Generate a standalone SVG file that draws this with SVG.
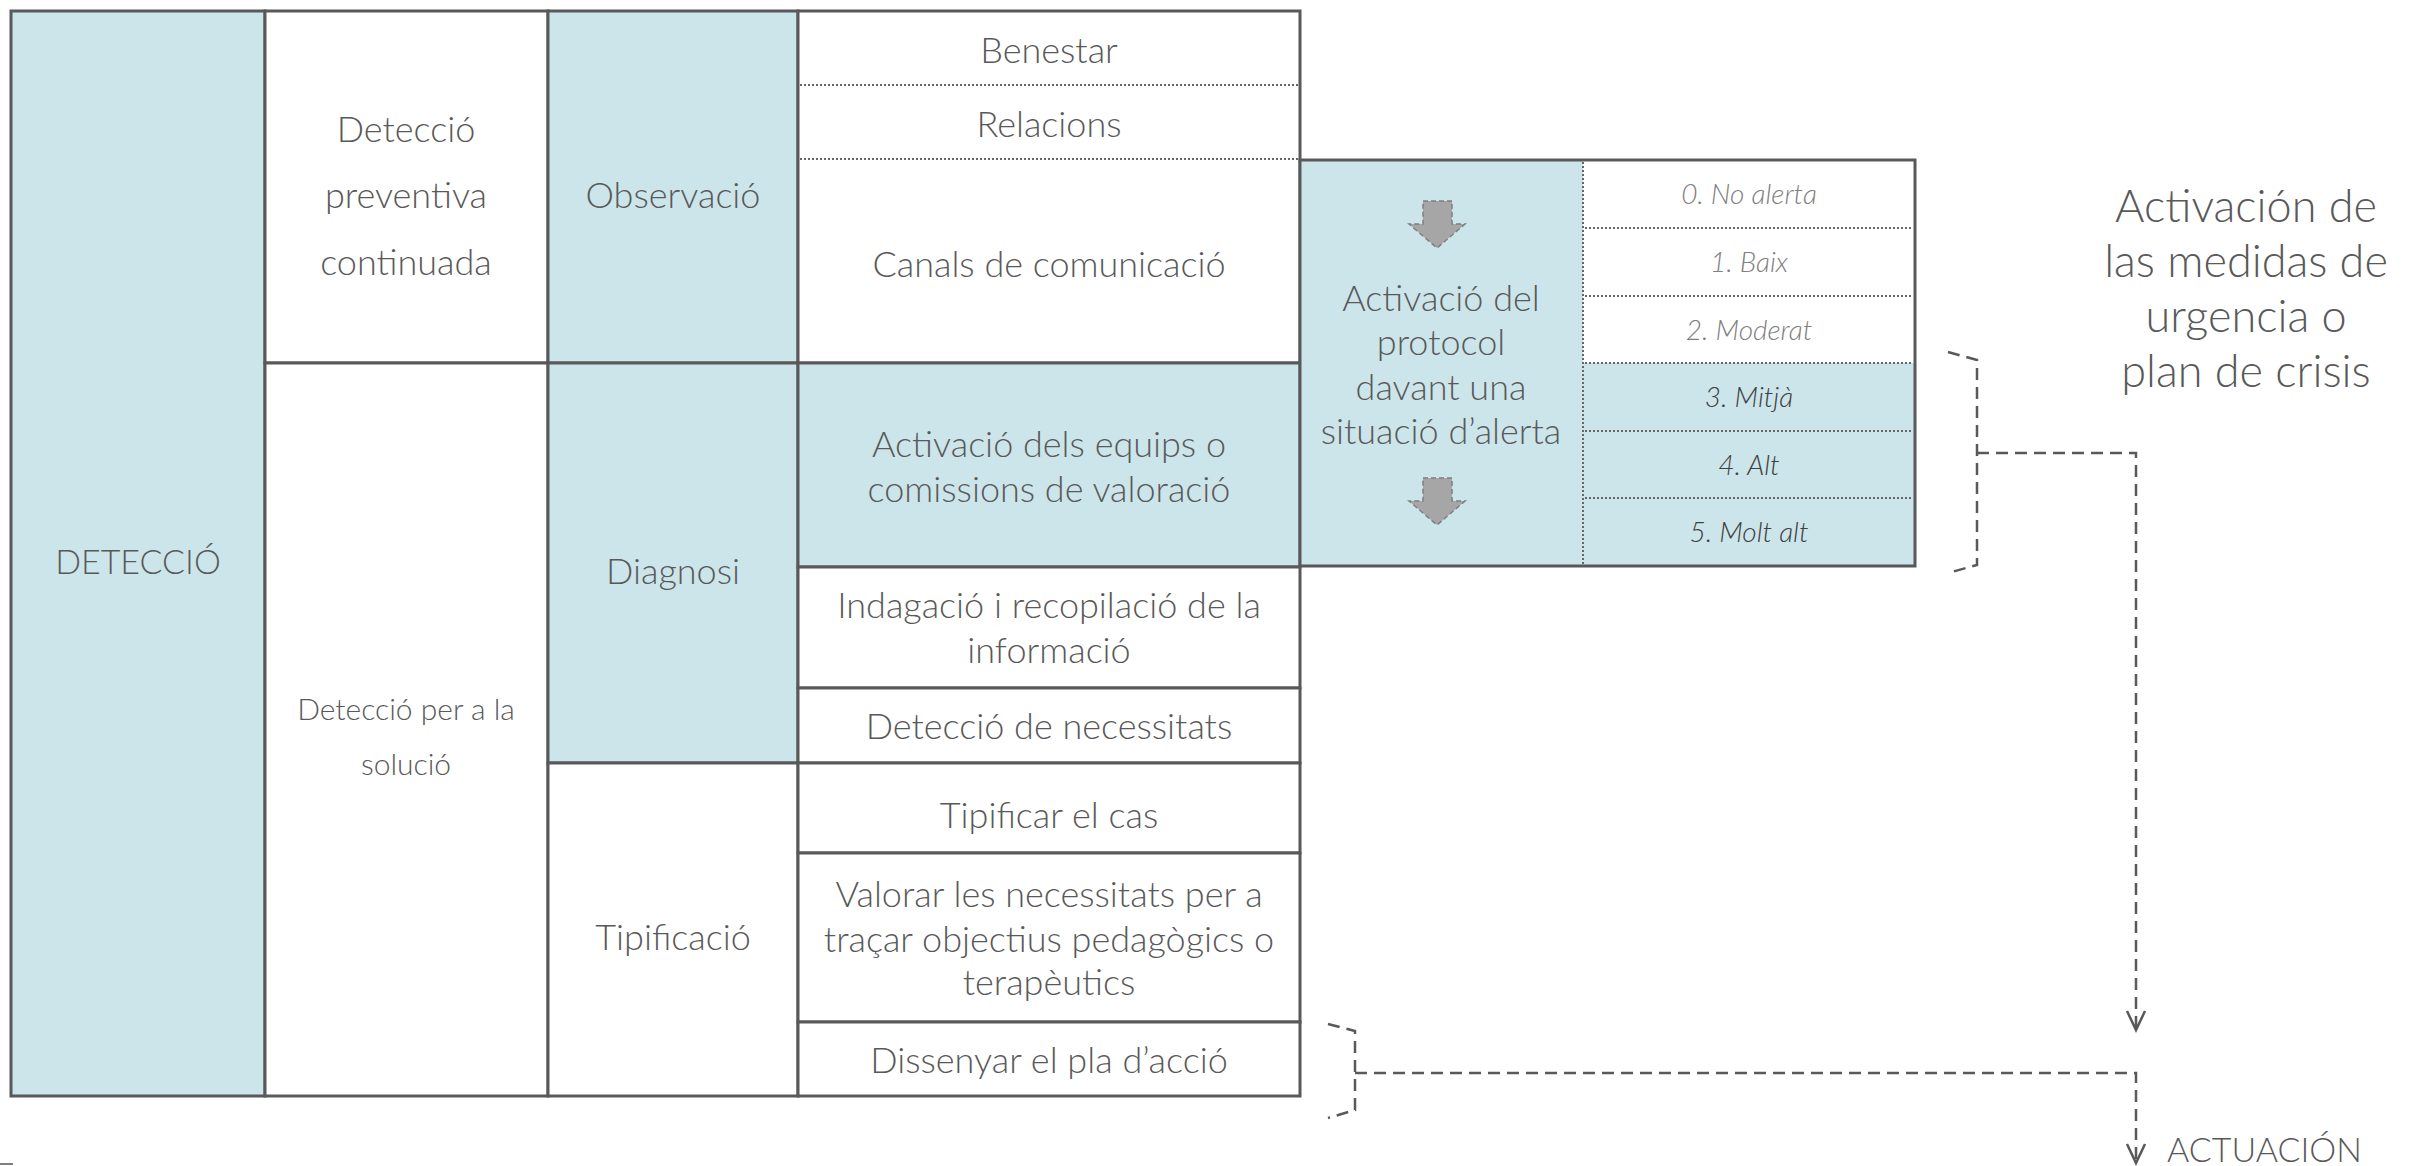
<svg xmlns="http://www.w3.org/2000/svg" width="2410" height="1166" viewBox="0 0 2410 1166">
<defs>
<style>
.cell{stroke:#595959;stroke-width:3}
.blue{fill:#cce5ea}
.white{fill:#ffffff}
.dot{stroke:#666666;stroke-width:2;stroke-dasharray:2 2;fill:none}
.t{font-family:Lato,"Open Sans","Liberation Sans",sans-serif;font-weight:300;fill:#595959;text-anchor:middle;font-size:36px}
.s{font-size:30px}
.big{font-size:34px}
.lv{font-style:italic;font-size:28px}
.lvl{fill:#808080}
.lvd{fill:#404040}
.title{font-size:45px;font-weight:300}
.act{font-size:34px;text-anchor:start}
.conn{fill:none;stroke:#595959;stroke-width:2.5;stroke-dasharray:12 7}
.blk{fill:#a6a6a6;stroke:#7f7f7f;stroke-width:1.5;stroke-dasharray:5 3}
</style>
<marker id="vee" markerUnits="userSpaceOnUse" viewBox="-22 -12 25 24" markerWidth="25" markerHeight="24" refX="0" refY="0" orient="auto">
<path d="M-19,-9 L0,0 L-19,9" fill="none" stroke="#595959" stroke-width="2.5" stroke-dasharray="none"/>
</marker>
</defs>
<rect width="2410" height="1166" fill="#ffffff"/>

<g id="deteccio">
<rect class="cell blue" x="11" y="11" width="254" height="1085"/>
<text class="t big" x="138" y="574">DETECCIÓ</text>
</g>

<g id="preventiva">
<rect class="cell white" x="265" y="11" width="283" height="352"/>
<text class="t" x="406" y="142">Detecció</text>
<text class="t" x="406" y="208">preventiva</text>
<text class="t" x="406" y="275">continuada</text>
</g>

<g id="solucio">
<rect class="cell white" x="265" y="363" width="283" height="733"/>
<text class="t s" x="406" y="720">Detecció per a la</text>
<text class="t s" x="406" y="775">solució</text>
</g>

<g id="observacio">
<rect class="cell blue" x="548" y="11" width="250" height="352"/>
<text class="t" x="673" y="208">Observació</text>
</g>

<g id="diagnosi">
<rect class="cell blue" x="548" y="363" width="250" height="400"/>
<text class="t" x="673" y="584">Diagnosi</text>
</g>

<g id="tipificacio">
<rect class="cell white" x="548" y="763" width="250" height="333"/>
<text class="t" x="673" y="950">Tipificació</text>
</g>

<g id="observacio-items">
<rect class="cell white" x="798" y="11" width="502" height="352"/>
<line class="dot" x1="800" y1="85" x2="1298" y2="85"/>
<line class="dot" x1="800" y1="159" x2="1298" y2="159"/>
<text class="t" x="1049" y="63">Benestar</text>
<text class="t" x="1049" y="137">Relacions</text>
<text class="t" x="1049" y="277">Canals de comunicació</text>
</g>

<g id="activacio-equips">
<rect class="cell blue" x="798" y="363" width="502" height="204"/>
<text class="t" x="1049" y="457">Activació dels equips o</text>
<text class="t" x="1049" y="502">comissions de valoració</text>
</g>

<g id="indagacio">
<rect class="cell white" x="798" y="567" width="502" height="121"/>
<text class="t" x="1049" y="618">Indagació i recopilació de la</text>
<text class="t" x="1049" y="663">informació</text>
</g>

<g id="deteccio-necessitats">
<rect class="cell white" x="798" y="688" width="502" height="75"/>
<text class="t" x="1049" y="739">Detecció de necessitats</text>
</g>

<g id="tipificar-cas">
<rect class="cell white" x="798" y="763" width="502" height="90"/>
<text class="t" x="1049" y="828">Tipificar el cas</text>
</g>

<g id="valorar">
<rect class="cell white" x="798" y="853" width="502" height="169"/>
<text class="t" x="1049" y="907">Valorar les necessitats per a</text>
<text class="t" x="1049" y="952">traçar objectius pedagògics o</text>
<text class="t" x="1049" y="995">terapèutics</text>
</g>

<g id="dissenyar">
<rect class="cell white" x="798" y="1022" width="502" height="74"/>
<text class="t" x="1049" y="1073">Dissenyar el pla d’acció</text>
</g>

<g id="protocol">
<rect class="blue" x="1300" y="160" width="283" height="406"/>
<polygon class="blk" points="1423,201 1452,201 1452,224 1465,224 1437,248 1409,224 1423,224"/>
<text class="t" x="1441" y="311">Activació del</text>
<text class="t" x="1441" y="355">protocol</text>
<text class="t" x="1441" y="400">davant una</text>
<text class="t" x="1441" y="444">situació d’alerta</text>
<polygon class="blk" points="1423,478 1452,478 1452,501 1465,501 1437,525 1409,501 1423,501"/>
</g>

<g id="nivells">
<rect class="white" x="1583" y="160" width="332" height="203"/>
<rect class="blue" x="1583" y="363" width="332" height="203"/>
<line class="dot" x1="1583" y1="162" x2="1583" y2="565"/>
<line class="dot" x1="1585" y1="228" x2="1913" y2="228"/>
<line class="dot" x1="1585" y1="296" x2="1913" y2="296"/>
<line class="dot" x1="1585" y1="363" x2="1913" y2="363"/>
<line class="dot" x1="1585" y1="431" x2="1913" y2="431"/>
<line class="dot" x1="1585" y1="498" x2="1913" y2="498"/>
<text class="t lv lvl" x="1749" y="204">0. No alerta</text>
<text class="t lv lvl" x="1749" y="272">1. Baix</text>
<text class="t lv lvl" x="1749" y="340">2. Moderat</text>
<text class="t lv lvd" x="1749" y="407">3. Mitjà</text>
<text class="t lv lvd" x="1749" y="475">4. Alt</text>
<text class="t lv lvd" x="1749" y="542">5. Molt alt</text>
</g>
<rect id="nivells-frame" class="cell" fill="none" x="1300" y="160" width="615" height="406"/>

<g id="mesures-urgencia">
<text class="t title" x="2246" y="222">Activación de</text>
<text class="t title" x="2246" y="277">las medidas de</text>
<text class="t title" x="2246" y="332">urgencia o</text>
<text class="t title" x="2246" y="387">plan de crisis</text>
</g>

<g id="actuacion">
<text class="t act" x="2167" y="1162">ACTUACIÓN</text>
</g>

<g id="connectors">
<path class="conn" d="M1948,352 L1977,360 L1977,565 L1948,573"/>
<path class="conn" d="M1977,453 H2136 V1030" marker-end="url(#vee)"/>
<path class="conn" d="M1328,1024 L1355,1031 L1355,1110 L1328,1118"/>
<path class="conn" d="M1355,1073 H2136 V1163" marker-end="url(#vee)"/>
</g>

<line x1="0" y1="1164" x2="13" y2="1164" stroke="#7f7f7f" stroke-width="2"/>
</svg>
